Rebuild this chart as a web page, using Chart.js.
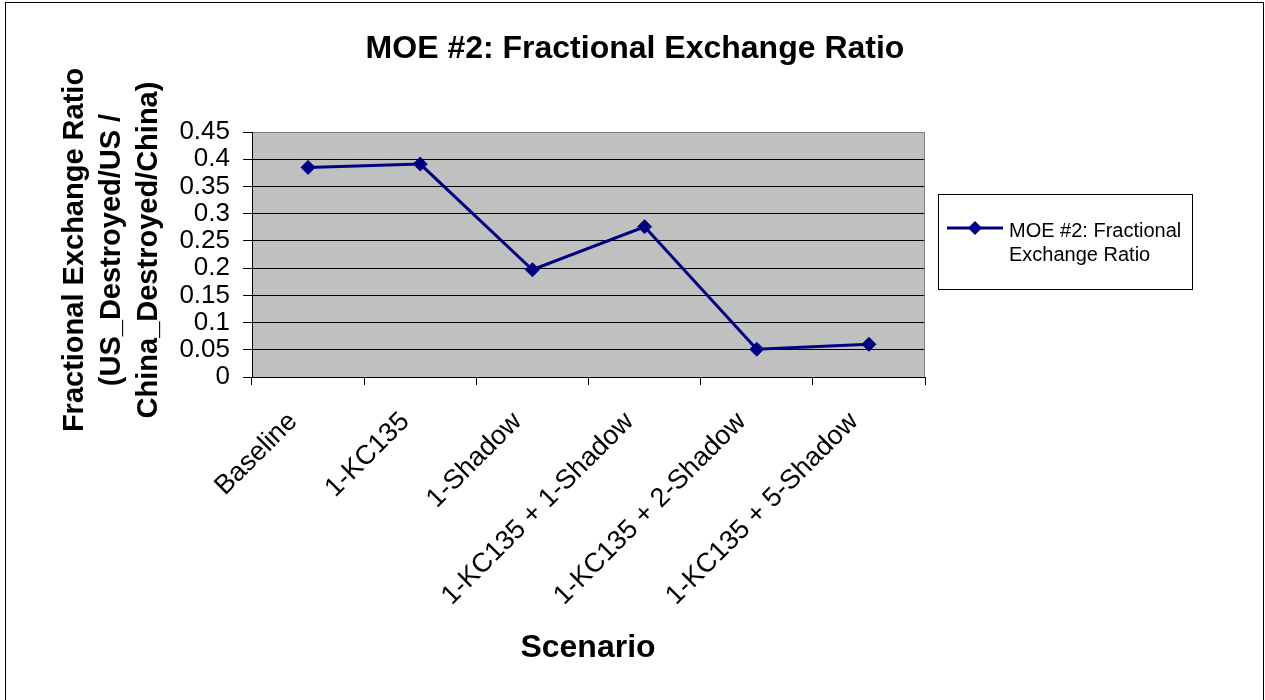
<!DOCTYPE html>
<html><head><meta charset="utf-8">
<script src="https://cdn.jsdelivr.net/npm/chart.js@4/dist/chart.umd.min.js"></script>
<style>html,body{margin:0;padding:0;background:#fff;}canvas{display:block;}</style>
</head><body>
<canvas id="c" width="1265" height="700"></canvas>
<script>
const categories = ['Baseline', '1-KC135', '1-Shadow', '1-KC135 + 1-Shadow', '1-KC135 + 2-Shadow', '1-KC135 + 5-Shadow'];
const ratioValues = [0.385, 0.391, 0.197, 0.276, 0.051, 0.060];
const yTickLabels = ['0', '0.05', '0.1', '0.15', '0.2', '0.25', '0.3', '0.35', '0.4', '0.45'];
const seriesName = 'MOE #2: Fractional Exchange Ratio';
const chartTitle = 'MOE #2: Fractional Exchange Ratio';
const xTitle = 'Scenario';
const yTitleLines = ['Fractional Exchange Ratio', '(US_Destroyed/US /', 'China_Destroyed/China)'];
const legendLines = ['MOE #2: Fractional', 'Exchange Ratio'];

const FONT = "'Liberation Sans', Arial, Helvetica, sans-serif";
const NAVY = '#000080';

const deco = {
  id: 'deco',
  beforeDraw(chart) {
    const { ctx, chartArea: a } = chart;
    ctx.save();
    ctx.fillStyle = '#fff';
    ctx.fillRect(0, 0, chart.width, chart.height);
    ctx.fillStyle = '#C0C0C0';
    ctx.fillRect(a.left, a.top, a.right - a.left, a.bottom - a.top);
    ctx.restore();
  },
  beforeDatasetsDraw(chart) {
    const { ctx, chartArea: a } = chart;
    ctx.save();
    ctx.strokeStyle = '#808080';
    ctx.lineWidth = 1;
    ctx.beginPath();
    ctx.moveTo(Math.round(a.right) - 0.5, a.top);
    ctx.lineTo(Math.round(a.right) - 0.5, a.bottom);
    ctx.stroke();
    ctx.restore();
  },
  afterDraw(chart) {
    const { ctx } = chart;
    ctx.save();
    ctx.strokeStyle = '#000';
    ctx.lineWidth = 1;
    ctx.strokeRect(5.5, 2.5, 1258, 720);
    ctx.fillStyle = '#000';
    ctx.font = 'bold 32px ' + FONT;
    ctx.textAlign = 'center';
    ctx.textBaseline = 'alphabetic';
    ctx.fillText(chartTitle, 635, 58);
    ctx.fillText(xTitle, 588, 657);
    ctx.font = 'bold 29px ' + FONT;
    const xs = [83, 120, 157];
    yTitleLines.forEach((t, i) => {
      ctx.save();
      ctx.translate(xs[i], 250);
      ctx.rotate(-Math.PI / 2);
      ctx.fillText(t, 0, 0);
      ctx.restore();
    });
    ctx.strokeStyle = '#000';
    ctx.strokeRect(938.5, 194.5, 254, 95);
    ctx.strokeStyle = NAVY;
    ctx.lineWidth = 3;
    ctx.beginPath();
    ctx.moveTo(947, 228);
    ctx.lineTo(1003, 228);
    ctx.stroke();
    ctx.fillStyle = NAVY;
    ctx.beginPath();
    ctx.moveTo(975, 221); ctx.lineTo(982, 228); ctx.lineTo(975, 235); ctx.lineTo(968, 228); ctx.closePath();
    ctx.fill();
    ctx.fillStyle = '#000';
    ctx.font = '20px ' + FONT;
    ctx.textAlign = 'left';
    ctx.fillText(legendLines[0], 1009, 237);
    ctx.fillText(legendLines[1], 1009, 261);
    ctx.restore();
  }
};

new Chart(document.getElementById('c'), {
  type: 'line',
  data: {
    labels: categories,
    datasets: [{
      label: seriesName,
      data: ratioValues,
      borderColor: NAVY,
      backgroundColor: NAVY,
      borderWidth: 3,
      pointStyle: 'rectRot',
      pointRadius: 7,
      pointHoverRadius: 7,
      pointBorderWidth: 1,
      tension: 0
    }]
  },
  options: {
    responsive: false,
    animation: false,
    events: [],
    layout: { padding: { top: 132, right: 340, bottom: 0, left: 0 } },
    plugins: { legend: { display: false }, title: { display: false }, tooltip: { enabled: false } },
    scales: {
      x: {
        offset: true,
        grid: { offset: true, drawOnChartArea: false, drawTicks: true, tickLength: 8, color: '#000' },
        border: { color: '#000', width: 1 },
        ticks: { color: '#000', font: { family: FONT, size: 27 }, minRotation: 45, maxRotation: 45, autoSkip: false, padding: 21, labelOffset: -15 },
        afterFit(s) { s.height = 323; }
      },
      y: {
        min: 0, max: 0.45,
        ticks: { stepSize: 0.05, autoSkip: false, color: '#000', font: { family: FONT, size: 26 }, padding: 13, callback: (v, i) => yTickLabels[i] },
        grid: { color: (c) => (c.index === 9 ? '#808080' : '#000'), tickLength: 9, tickColor: '#000' },
        border: { color: '#000', width: 1 },
        afterFit(s) { s.width = 252; }
      }
    }
  },
  plugins: [deco]
});
</script>
</body></html>
